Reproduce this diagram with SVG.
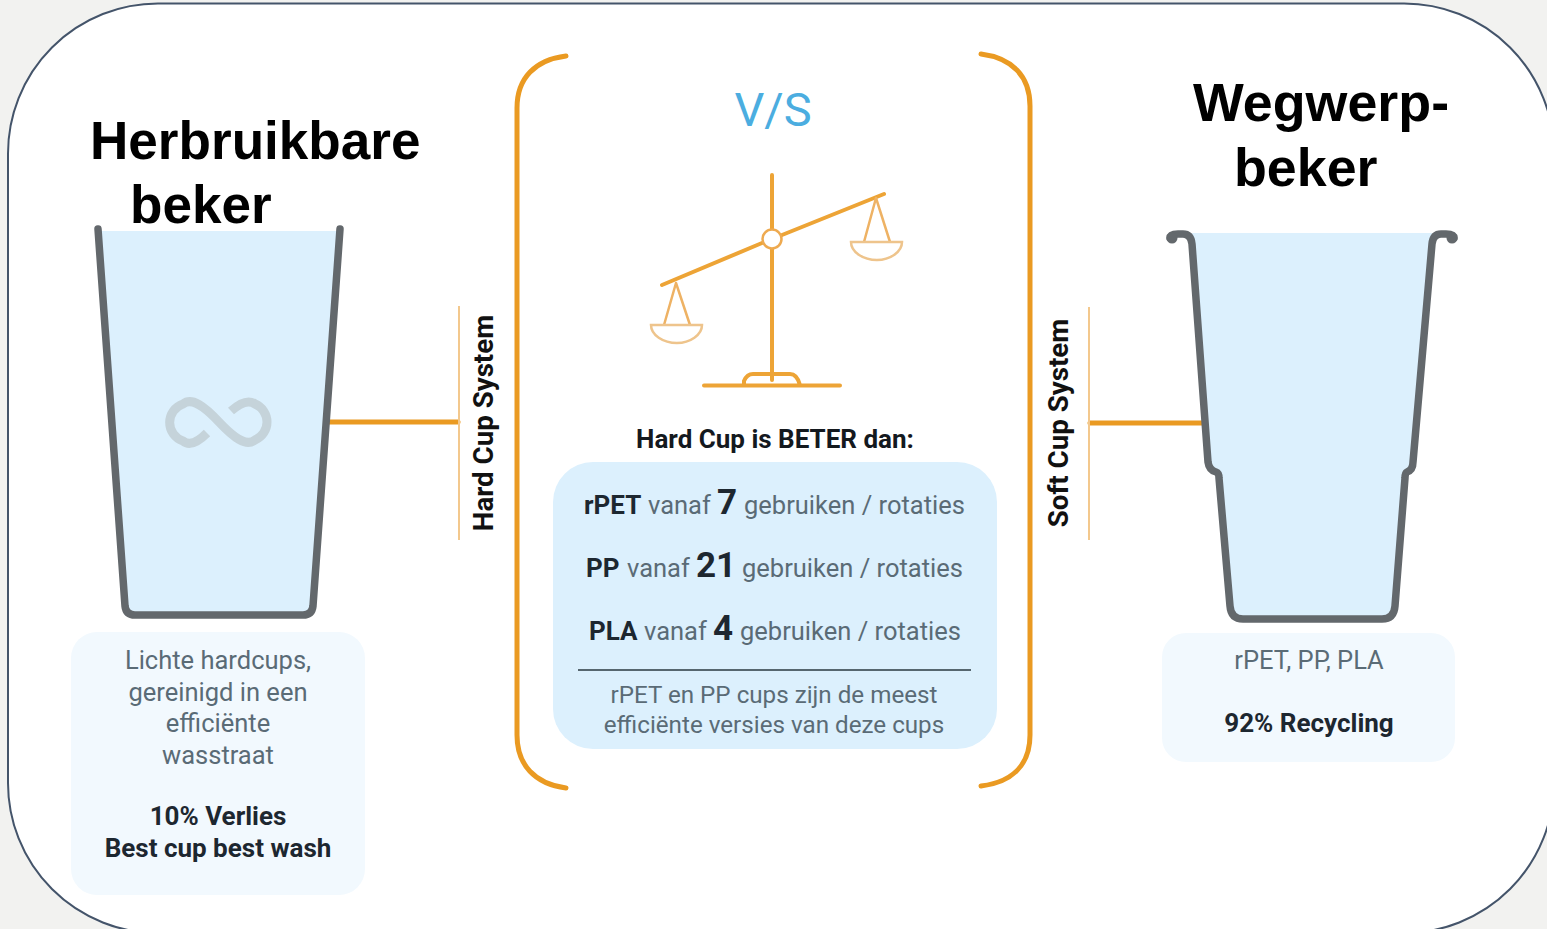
<svg xmlns="http://www.w3.org/2000/svg" width="1547" height="929" viewBox="0 0 1547 929">
<style>
text{font-family:Roboto,"Liberation Sans",sans-serif;fill:#5a6b76;font-size:25.500px}
.c{text-anchor:middle}
.b{font-weight:700;fill:#1d2730;font-size:26px}
.s{font-size:24.200px}
.v{font-weight:700;fill:#111;font-size:27.700px;text-anchor:middle}
.h{font-family:"Liberation Sans",Arial,sans-serif;font-weight:700;font-size:53.100px;fill:#000}
.h2{font-size:53.800px}
.big{font-weight:700;fill:#1d2730;font-size:35px}
.cup{fill:none;stroke:#63686c;stroke-width:7.500;stroke-linejoin:round;stroke-linecap:round}
.or{fill:none;stroke:#ea9a22;stroke-linecap:round}
.thin{fill:none;stroke:#f3c88d;stroke-width:2}
.sc{fill:none;stroke:#eda436;stroke-width:4;stroke-linecap:round}
.st{fill:none;stroke:#eeb264;stroke-width:2.500;stroke-linecap:round}
.pan{fill:#fff;stroke:#eec48c;stroke-width:2.500}
</style>
<rect width="1547" height="929" fill="#f2f2f0"/>
<rect id="frame" x="8" y="3.500" width="1546" height="929.500" rx="150" ry="150" fill="#fff" stroke="#44546a" stroke-width="2"/>

<g id="connectors">
<path class="or" stroke-width="5" d="M329 422H458"/>
<path class="thin" d="M459 306V540"/>
<path class="or" stroke-width="5" d="M1090 423H1203"/>
<path class="thin" d="M1089 307V540"/>
</g>

<g id="bracket-left"><path class="or" stroke-width="5" d="M566 56C535 60 517 78 517 108V735C517 765 535 784 566 788"/></g>
<g id="bracket-right"><path class="or" stroke-width="5" d="M981 54C1012 58 1030 76 1030 106V735C1030 765 1012 782 981 786"/></g>

<g id="cup-hard">
<path d="M98 231H340L313 606Q312 615 303 615H135Q126 615 125 606Z" fill="#dcf0fd"/>
<path class="cup" d="M98 229L125 606Q126 615 135 615H303Q312 615 313 606L340 229"/>
<path d="M207 433C197 443 189 446 183 441A19.500 19.500 0 0 1 183 404C192 397 204 406 219 422C234 438 246 447 255 440A19.500 19.500 0 0 0 255 404C248 399 240 403 231 411" fill="none" stroke="#c5d3da" stroke-width="9"/>
<text class="h" x="90" y="159">Herbruikbare</text>
<text class="h" x="130" y="223">beker</text>
</g>

<g id="label-hard"><text class="v" transform="translate(493 423) rotate(-90)">Hard Cup System</text></g>
<g id="label-soft"><text class="v" transform="translate(1068 423) rotate(-90)">Soft Cup System</text></g>

<g id="text-hard">
<rect x="71" y="632" width="294" height="263" rx="26" fill="#f2f9fe"/>
<text class="c" x="218" y="669">Lichte hardcups,</text>
<text class="c" x="218" y="701">gereinigd in een</text>
<text class="c" x="218" y="732">efficiënte</text>
<text class="c" x="218" y="764">wasstraat</text>
<text class="c b" x="218" y="825">10% Verlies</text>
<text class="c b" x="218" y="857">Best cup best wash</text>
</g>

<g id="scale">
<text class="c" x="773" y="126" style="font-size:47px;fill:#4bade0">V/S</text>
<path class="sc" d="M772 175V230M772 249V380M662 285L762 243M782 235L884 194"/>
<path class="sc" d="M704 385.500H840M744 385V381Q747 374 753 374H790Q797 374 800 385"/>
<circle cx="772" cy="239" r="9.500" fill="#fff" stroke="#eeaa50" stroke-width="2.500"/>
<path class="st" d="M676 283L664 325M676 283L690 325M876 198L864 242M876 198L890 242"/>
<path class="pan" d="M651 325H702C702 335 690 343 677 343C663 343 651 335 651 325Z"/>
<path class="pan" d="M851 242H902C902 252 890 260 877 260C863 260 851 252 851 242Z"/>
</g>

<g id="panel">
<text class="c b" x="775" y="448" style="fill:#14191e">Hard Cup is BETER dan:</text>
<rect x="553" y="462" width="444" height="287" rx="40" fill="#dcf0fd"/>
<text x="584" y="514"><tspan class="b">rPET</tspan><tspan x="648">vanaf</tspan><tspan class="big" x="717">7</tspan><tspan x="744">gebruiken / rotaties</tspan></text>
<text x="586" y="577"><tspan class="b">PP</tspan><tspan x="627">vanaf</tspan><tspan class="big" x="696">21</tspan><tspan x="742">gebruiken / rotaties</tspan></text>
<text x="589" y="640"><tspan class="b">PLA</tspan><tspan x="644">vanaf</tspan><tspan class="big" x="713">4</tspan><tspan x="740">gebruiken / rotaties</tspan></text>
<path d="M578 670H971" stroke="#56666f" stroke-width="2"/>
<text class="c s" x="774" y="702.500">rPET en PP cups zijn de meest</text>
<text class="c s" x="774" y="732.500">efficiënte versies van deze cups</text>
</g>

<g id="cup-soft">
<path d="M1192 233H1432L1413 462Q1413 470 1407 472Q1405 473 1405 478L1395 606Q1394 619 1382 619H1243Q1231 619 1230 606L1219 478Q1219 473 1216 472Q1209 470 1208 462Z" fill="#dcf0fd"/>
<path class="cup" d="M1170 238Q1170 234 1178 234H1183Q1191 234 1192 244L1208 462Q1209 470 1216 472Q1219 473 1219 478L1230 606Q1231 619 1243 619H1382Q1394 619 1395 606L1405 478Q1405 473 1407 472Q1413 470 1413 462L1432 244Q1433 234 1441 234H1446Q1454 234 1454 238"/>
<circle cx="1172" cy="238" r="5.500" fill="#63686c"/><circle cx="1452" cy="238" r="5.500" fill="#63686c"/>
<text class="h h2" x="1193" y="121">Wegwerp-</text>
<text class="h h2" x="1234" y="186">beker</text>
</g>

<g id="text-soft">
<rect x="1162" y="633" width="293" height="129" rx="24" fill="#f2f9fe"/>
<text class="c" x="1309" y="669">rPET, PP, PLA</text>
<text class="c b" x="1309" y="732">92% Recycling</text>
</g>
</svg>
